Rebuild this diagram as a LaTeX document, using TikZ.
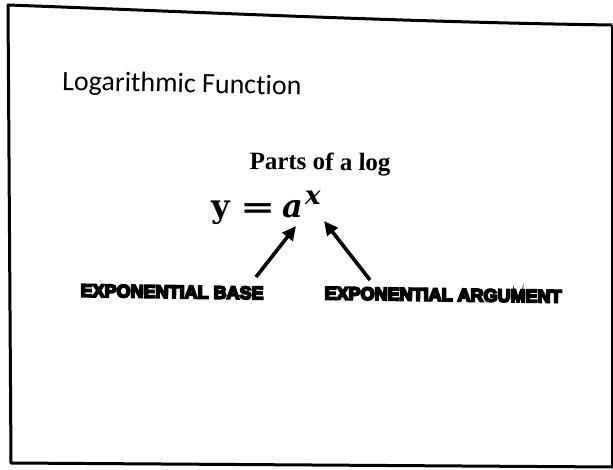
\documentclass[tikz,border=0pt]{standalone}
\usepackage{fontspec}
\usetikzlibrary{arrows.meta}
\newfontfamily\titlefont[Ligatures=NoCommon]{Carlito}
\newfontfamily\timesfont{Liberation Serif}
\newfontfamily\eqfont{DejaVu Serif}
\newfontfamily\heavyfont[FakeBold=10]{Liberation Sans Bold}
\tikzset{
  frameline/.style={line width=3pt, line join=round},
  ptr/.style={line width=3.6pt, -{Triangle[length=14pt,width=13pt]}},
  heavylabel/.style={font={\heavyfont\fontsize{18}{20}\selectfont}, inner sep=0pt, anchor=base, rotate=-0.8},
  eqpart/.style={font={\eqfont\bfseries\fontsize{32}{34}\selectfont}, inner sep=0pt, anchor=base west},
}
\begin{document}
\begin{tikzpicture}[x=1pt,y=-1pt]
\useasboundingbox (0,0) rectangle (613,470);
\fill[white] (0,0) rectangle (613,470);
% frame
\draw[frameline] (612,25) .. controls (400,22) and (200,12) .. (8,5) -- (11,463) -- (613,467);
\draw[line width=1.3pt] (612,25) -- (612,467);
% texts
\node[font={\titlefont\fontsize{28}{30}\selectfont}, anchor=base west, inner sep=0pt, rotate=-1.2] (title) at (62,90) {Logarithmic Function};
\node[font={\timesfont\bfseries\fontsize{25}{28}\selectfont}, anchor=base, inner sep=0pt, rotate=-0.8] (parts) at (320,170) {Parts of a log};
\node[eqpart] (ysym) at (211,218) {y};
\node[eqpart, font={\eqfont\bfseries\fontsize{29}{32}\selectfont}] (eqsym) at (240,218) {\scalebox{1.45}[1]{=}};
\node[eqpart] (asym) at (282,218) {\itshape a};
\node[eqpart, font={\eqfont\bfseries\itshape\fontsize{26}{28}\selectfont}] (xsym) at (305,205) {x};
\node[heavylabel] (base) at (172,298) {EXPONENTIAL BASE};
\node[heavylabel] (arg) at (443,301) {EXPONENTIAL ARGUMENT};
% arrows
\coordinate (tailL) at (256,277);
\coordinate (tipL) at (296,226);
\coordinate (tailR) at (370,280);
\coordinate (tipR) at (324,221);
\draw[ptr] (tailL) -- (tipL);
\draw[ptr] (tailR) -- (tipR);
\end{tikzpicture}
\end{document}
